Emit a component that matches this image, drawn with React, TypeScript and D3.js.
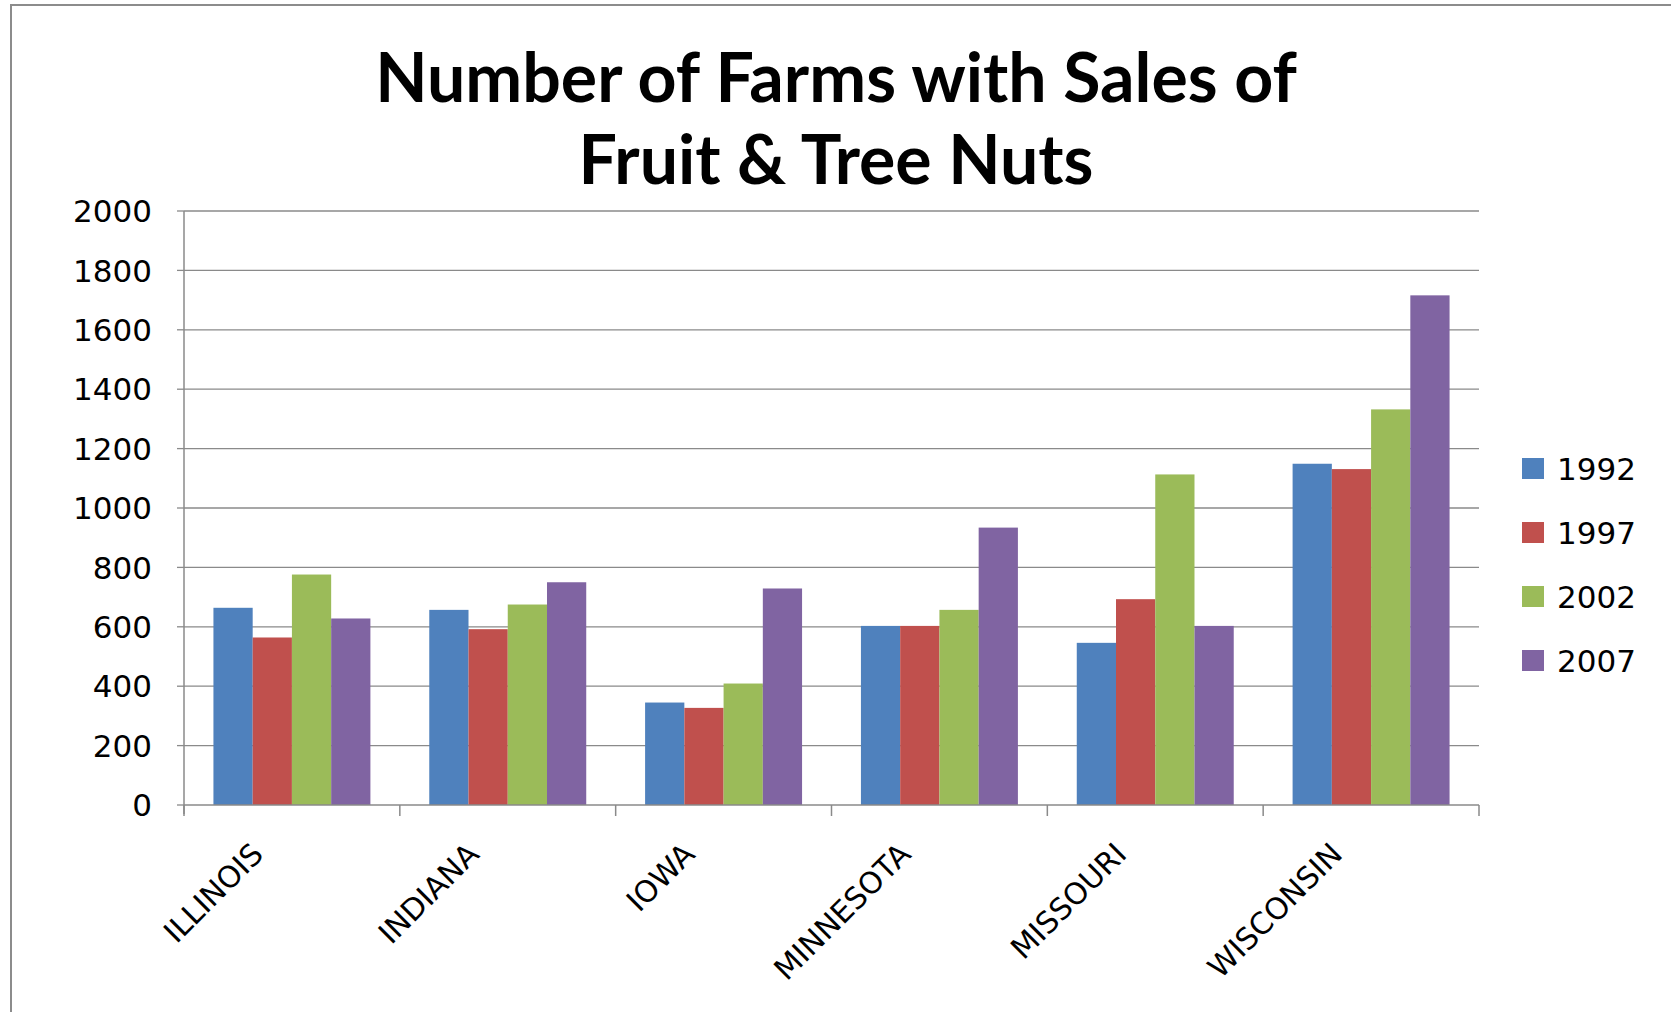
import React from "react";
import * as d3 from "d3";

const states = ["ILLINOIS", "INDIANA", "IOWA", "MINNESOTA", "MISSOURI", "WISCONSIN"];
const years = ["1992", "1997", "2002", "2007"];
const v1992 = [664, 657, 345, 603, 546, 1149];
const v1997 = [564, 592, 327, 603, 693, 1131];
const v2002 = [776, 675, 409, 657, 1113, 1332];
const v2007 = [628, 750, 729, 934, 603, 1716];
const yTicks = [0, 200, 400, 600, 800, 1000, 1200, 1400, 1600, 1800, 2000];
const colors = ["#4F81BD", "#C0504D", "#9BBB59", "#8064A2"];
const titleLines = ["Number of Farms with Sales of", "Fruit & Tree Nuts"];

const W = 1671;
const H = 1012;
const plot = { left: 184, right: 1479, top: 211, bottom: 805 };

export default function App() {
  const series = [v1992, v1997, v2002, v2007];
  const x0 = d3.scaleBand<string>().domain(states).range([plot.left, plot.right]).paddingInner(0).paddingOuter(0);
  const bw = x0.bandwidth();
  const off = (bw * 0.75) / 5.5;
  const x1 = d3.scaleBand<string>().domain(years).range([off, bw - off]);
  const y = d3.scaleLinear().domain([0, 2000]).range([plot.bottom, plot.top]);
  const font = "'DejaVu Sans', Verdana, sans-serif";
  const grid = "#8a8a8a";
  const boundaries = states.map((s) => x0(s) as number).concat([plot.right]);

  return (
    <svg width={W} height={H} style={{ position: "absolute", left: 0, top: 0, background: "#fff" }}>
      <rect x={0} y={0} width={W} height={H} fill="#fff" />
      <rect x={11} y={5} width={W + 20} height={H + 20} fill="none" stroke="#8c8c8c" strokeWidth={2} />
      {titleLines.map((t, i) => (
        <text key={t} x={836} y={102 + i * 82} textAnchor="middle" fontFamily="Lato, 'Open Sans', sans-serif" fontWeight={700} fontSize={68} fill="#000">
          {t}
        </text>
      ))}
      {yTicks.map((t) => (
        <g key={t}>
          {t > 0 && <line x1={plot.left} x2={plot.right} y1={y(t)} y2={y(t)} stroke={grid} strokeWidth={1.3} />}
          <line x1={plot.left - 7} x2={plot.left} y1={y(t)} y2={y(t)} stroke={grid} strokeWidth={1.3} />
          <text x={152} y={y(t)} dy="0.36em" textAnchor="end" fontFamily={font} fontSize={31} fill="#000">
            {t}
          </text>
        </g>
      ))}
      {states.map((s, i) => (
        <g key={s} transform={`translate(${x0(s)},0)`}>
          {series.map((vals, j) => (
            <rect key={j} x={x1(years[j])} y={y(vals[i])} width={x1.bandwidth()} height={plot.bottom - y(vals[i])} fill={colors[j]} />
          ))}
        </g>
      ))}
      <line x1={plot.left} x2={plot.left} y1={plot.top} y2={plot.bottom + 9} stroke={grid} strokeWidth={1.5} />
      <line x1={plot.left} x2={plot.right} y1={plot.bottom} y2={plot.bottom} stroke={grid} strokeWidth={1.5} />
      {boundaries.map((b, i) => (
        <line key={i} x1={b} x2={b} y1={plot.bottom} y2={plot.bottom + 11} stroke={grid} strokeWidth={1.5} />
      ))}
      {states.map((s) => {
        const cx = (x0(s) as number) + bw / 2;
        const ax = cx - 27;
        const ay = plot.bottom + 51;
        return (
          <text key={s} x={ax} y={ay} transform={`rotate(-45 ${ax} ${ay})`} textAnchor="end" fontFamily={font} fontSize={30} fill="#000">
            {s}
          </text>
        );
      })}
      {years.map((yr, i) => (
        <g key={yr} transform={`translate(1522, ${469 + i * 64})`}>
          <rect x={0} y={-11} width={22} height={21} fill={colors[i]} />
          <text x={35} y={0} dy="0.36em" fontFamily={font} fontSize={31} fill="#000">
            {yr}
          </text>
        </g>
      ))}
    </svg>
  );
}
